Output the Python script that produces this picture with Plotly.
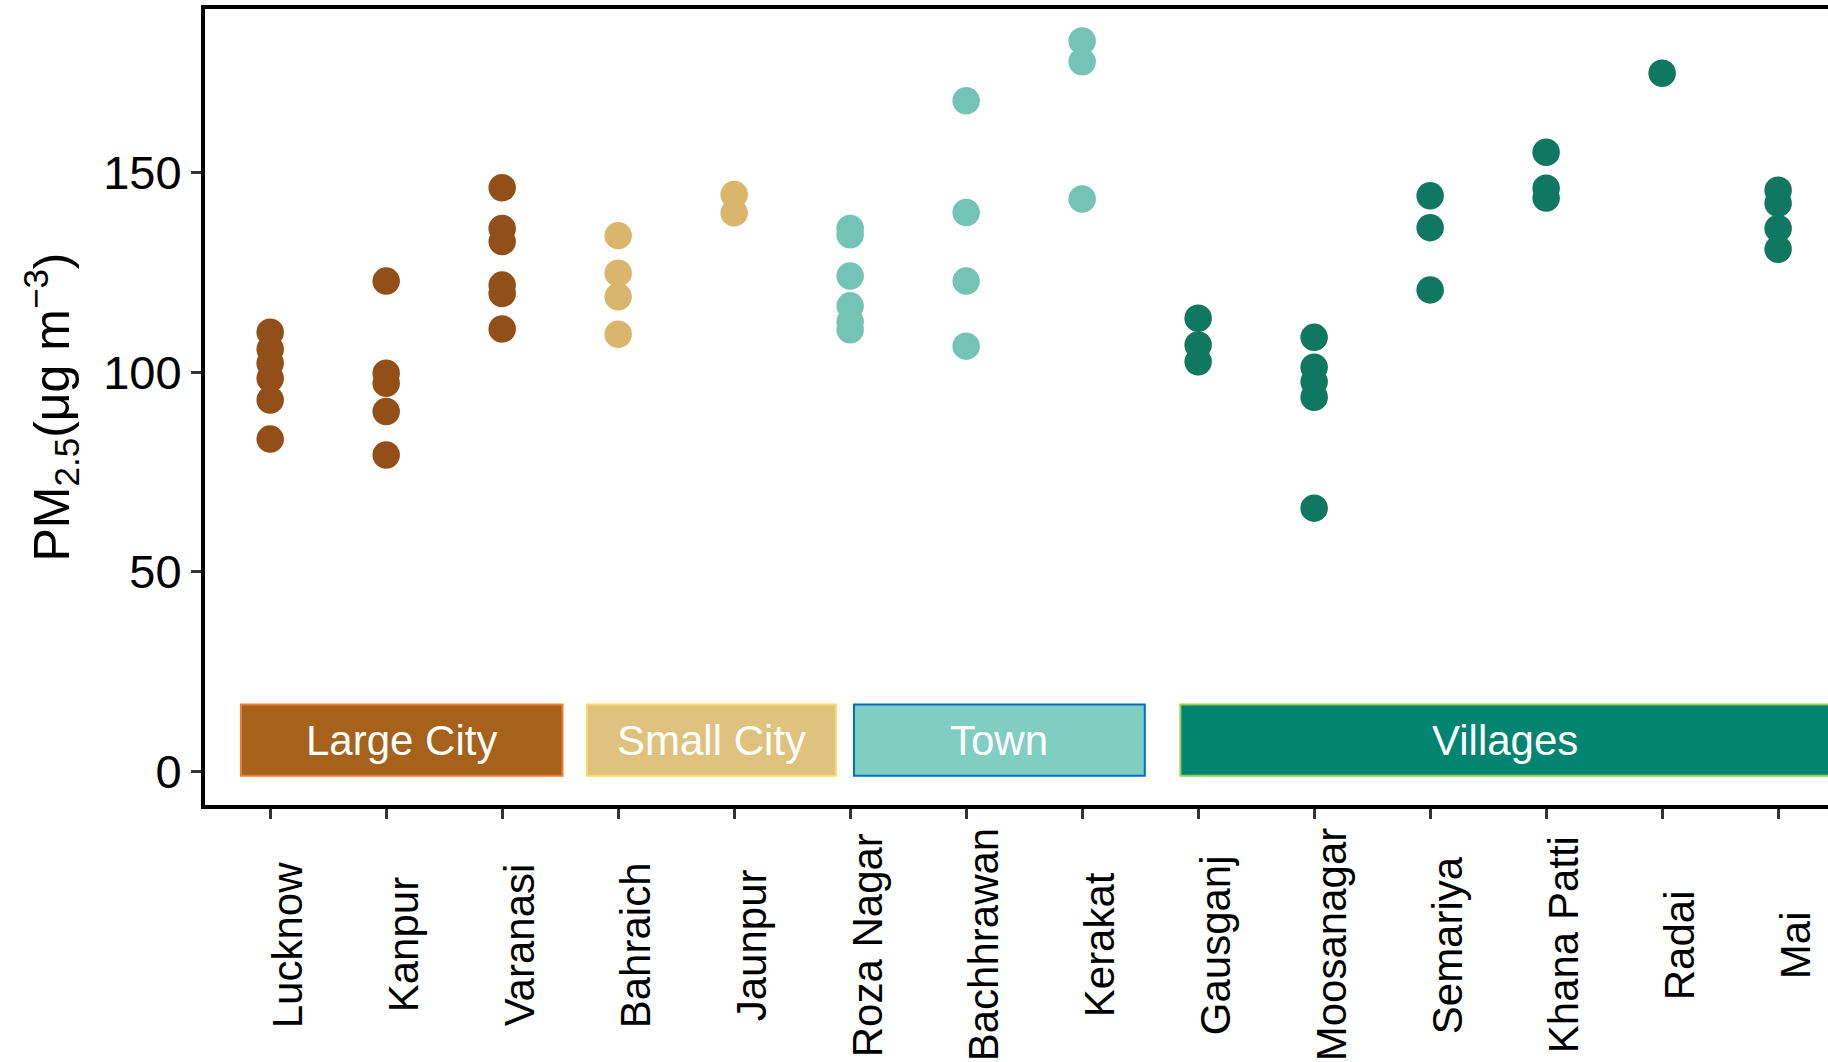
import plotly.graph_objects as go

# Sampling sites along the x axis, in plotting order
sites = ["Lucknow", "Kanpur", "Varanasi", "Bahraich", "Jaunpur", "Roza Nagar",
         "Bachhrawan", "Kerakat", "Gausganj", "Moosanagar", "Semariya",
         "Khana Patti", "Radai", "Mai"]

# Settlement classes
large_city = ["Lucknow", "Kanpur", "Varanasi"]
small_city = ["Bahraich", "Jaunpur"]
town = ["Roza Nagar", "Bachhrawan", "Kerakat"]
villages = ["Gausganj", "Moosanagar", "Semariya", "Khana Patti", "Radai", "Mai"]

# PM2.5 measurements (ug m-3) per site
pm_lucknow = [110.1, 105.8, 102.3, 98.5, 93.1, 83.3]
pm_kanpur = [122.9, 99.8, 97.3, 90.2, 79.3]
pm_varanasi = [146.3, 136.1, 132.8, 121.9, 119.8, 110.9]
pm_bahraich = [134.3, 124.9, 119.0, 109.6]
pm_jaunpur = [144.6, 140.0]
pm_roza_nagar = [136.1, 134.5, 124.2, 116.7, 112.7, 110.7]
pm_bachhrawan = [168.1, 140.1, 122.9, 106.6]
pm_kerakat = [183.1, 177.9, 143.5]
pm_gausganj = [113.6, 106.9, 102.7]
pm_moosanagar = [108.8, 101.3, 97.7, 93.8, 66.0]
pm_semariya = [144.3, 136.3, 120.7]
pm_khana_patti = [155.2, 146.2, 143.7]
pm_radai = [175.0]
pm_mai = [145.7, 142.4, 136.1, 130.9]

site_values = [pm_lucknow, pm_kanpur, pm_varanasi, pm_bahraich, pm_jaunpur,
               pm_roza_nagar, pm_bachhrawan, pm_kerakat, pm_gausganj,
               pm_moosanagar, pm_semariya, pm_khana_patti, pm_radai, pm_mai]

# Class labels and colours (point colour, panel fill, panel outline)
class_names = ["Large City", "Small City", "Town", "Villages"]
class_members = [large_city, small_city, town, villages]
point_colors = ["#934F18", "#D9B66B", "#73C4B4", "#107760"]
panel_fills = ["#A6611A", "#DFC27D", "#80CDC1", "#018571"]
panel_lines = ["#ED7D31", "#FFD966", "#0070C0", "#92D050"]
# Horizontal extent of the class panels (category index units)
panel_x = [(-0.252, 2.52), (2.731, 4.877), (5.033, 7.54), (7.847, 13.44)]
panel_y = (-1.1, 16.8)

FONT = "Liberation Sans, Arial, Helvetica, sans-serif"

fig = go.Figure()

for name, members, color in zip(class_names, class_members, point_colors):
    xs, ys = [], []
    for site, vals in zip(sites, site_values):
        if site in members:
            xs += [site] * len(vals)
            ys += vals
    fig.add_trace(go.Scatter(
        x=xs, y=ys, mode="markers", name=name,
        marker=dict(size=27.5, color=color, line=dict(width=0)),
        showlegend=False,
    ))

# Class panels near the bottom of the plot
for name, (x0, x1), fill, line in zip(class_names, panel_x, panel_fills, panel_lines):
    fig.add_shape(type="rect", xref="x", yref="y", x0=x0, x1=x1,
                  y0=panel_y[0], y1=panel_y[1], fillcolor=fill,
                  line=dict(color=line, width=2), layer="below")
    fig.add_annotation(x=(x0 + x1) / 2, y=(panel_y[0] + panel_y[1]) / 2,
                       xref="x", yref="y", text=name, showarrow=False,
                       font=dict(family=FONT, size=42, color="white"),
                       xanchor="center", yanchor="middle")

# Rotated site labels under the axis
for site in sites:
    fig.add_annotation(x=site, y=-0.176, xref="x", yref="paper", text=site,
                       showarrow=False, textangle=-90, xshift=17,
                       font=dict(family=FONT, size=42, color="black"),
                       xanchor="center", yanchor="middle")

# Y axis title
fig.add_annotation(x=0, y=0.5, xref="paper", yref="paper",
                   text="PM<sub>2.5</sub>(\u03bcg m<sup>\u22123</sup>)",
                   showarrow=False, textangle=-90, xanchor="right",
                   yanchor="middle", xshift=-117,
                   font=dict(family=FONT, size=50, color="black"))

fig.update_layout(
    width=1828, height=1062,
    margin=dict(l=205, r=0, t=9, b=257),
    plot_bgcolor="white", paper_bgcolor="white",
    font=dict(family=FONT, color="black"),
    xaxis=dict(
        type="category", categoryorder="array", categoryarray=sites,
        range=[-0.562, 13.43], showticklabels=False,
        ticks="outside", ticklen=10, tickwidth=2.5, tickcolor="#333333",
        showline=True, linecolor="black", linewidth=4, mirror=True,
        showgrid=False, zeroline=False,
    ),
    yaxis=dict(
        range=[-8.4, 191.1], tickvals=[0, 50, 100, 150],
        tickfont=dict(family=FONT, size=47, color="black"),
        ticks="outside", ticklen=10, tickwidth=2.5, tickcolor="#333333",
        showline=True, linecolor="black", linewidth=4,
        showgrid=False, zeroline=False,
    ),
)

fig.write_html("out.html")
